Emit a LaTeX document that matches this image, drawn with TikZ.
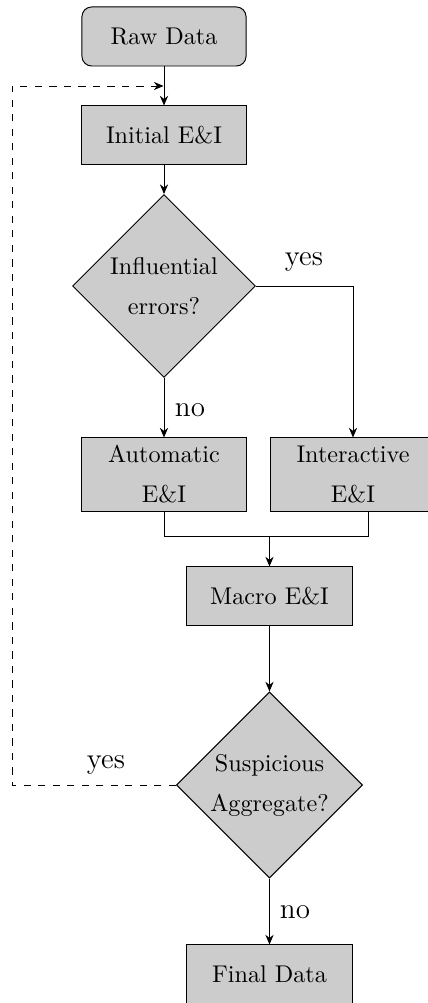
\documentclass[tikz,border=0pt]{standalone}
\usetikzlibrary{shapes.geometric,arrows.meta}
\begin{document}
\begin{tikzpicture}[x=0.41322pt,y=-0.41322pt,
  line width=0.4pt,
  arr/.style={-{Stealth[length=4pt,width=3.4pt,inset=1.3pt]}},
  boxnode/.style={draw=black,fill=black!20,minimum width=67.8pt,minimum height=24pt,inner sep=0pt,align=center},
  roundnode/.style={boxnode,rounded corners=4pt,minimum height=24.4pt},
  tallnode/.style={boxnode,minimum height=30.2pt},
  decnode/.style={draw=black,fill=black!20,diamond,aspect=1,inner sep=0pt,align=center},
  lbl/.style={font=\large,inner sep=0pt}]
\useasboundingbox (0,0) rectangle (427,1003);
\node[roundnode] (raw) at (164,36.5) {Raw Data};
\node[boxnode] (init) at (164,135) {Initial E\&I};
\node[decnode,minimum width=75.6pt,minimum height=75.6pt] (d1) at (164,286) {Influential\\[4.5pt]errors?};
\node[tallnode] (auto) at (164,474.5) {Automatic\\[4.5pt]E\&I};
\node[tallnode] (inter) at (353,474.5) {Interactive\\[4.5pt]E\&I};
\node[boxnode,minimum width=68.2pt] (macro) at (269.5,596) {Macro E\&I};
\node[decnode,minimum width=76.9pt,minimum height=76.9pt] (d2) at (269.5,785) {Suspicious\\[4.5pt]Aggregate?};
\node[boxnode,minimum width=68.2pt] (final) at (269.5,974) {Final Data};

\node[lbl] (yes1) at (304,262) {yes};
\node[lbl] (no1) at (190,410) {no};
\node[lbl] (yes2) at (106,765) {yes};
\node[lbl] (no2) at (295,912) {no};

\coordinate (loopin) at (163.5,86);
\coordinate (c1) at (12,785);
\coordinate (c2) at (12,86);
\coordinate (m) at (269.5,536);
\coordinate (rb) at (368,511);

\draw[arr] (raw) -- (init);
\draw[arr] (init) -- (d1);
\draw[arr] (d1) -- (auto);
\draw[arr] (d1.east) -| (inter.north);
\draw (auto.south) |- (m);
\draw (rb) |- (m);
\draw[arr] (m) -- (macro.north);
\draw[arr] (macro) -- (d2);
\draw[arr] (d2) -- (final);
\draw[arr,dashed] (d2.west) -- (c1) -- (c2) -- (loopin);
\end{tikzpicture}
\end{document}
